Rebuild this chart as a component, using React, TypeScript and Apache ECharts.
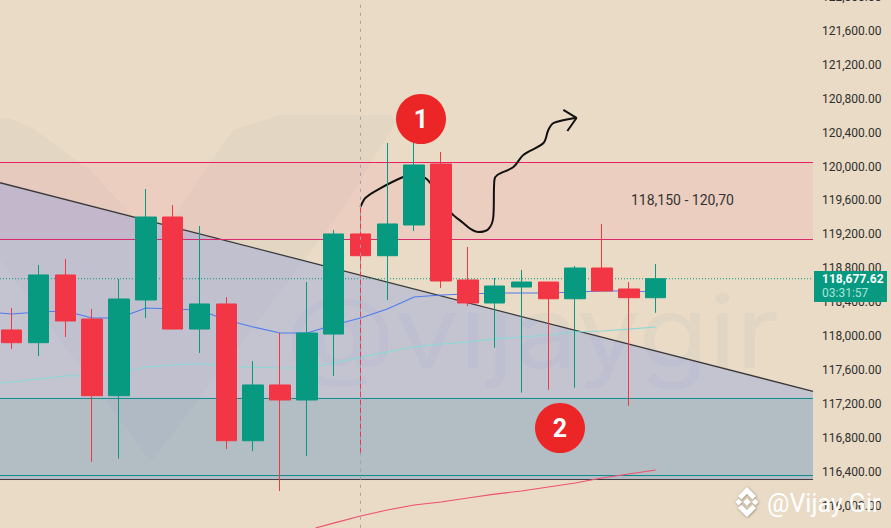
import React, { useEffect, useRef } from "react";
import * as echarts from "echarts";

const W = 891;
const H = 528;

// [index, open, close, low, high]
const candles: number[][] = [
  [0, 118074, 117924, 117850, 118333],
  [1, 117924, 118722, 117767, 118840],
  [2, 118722, 118180, 117991, 118910],
  [3, 118203, 117299, 116522, 118321],
  [4, 117299, 118439, 116557, 118675],
  [5, 118427, 119405, 118215, 119735],
  [6, 119405, 118085, 118085, 119546],
  [7, 118085, 118380, 117803, 119299],
  [8, 118380, 116769, 116671, 118462],
  [9, 116769, 117426, 116648, 117708],
  [10, 117426, 117249, 116177, 118038],
  [11, 117249, 118038, 116589, 118639],
  [12, 118026, 119205, 117532, 119252],
  [13, 119205, 118949, 116601, 119546],
  [14, 118949, 119323, 118427, 120277],
  [15, 119311, 120018, 119240, 120312],
  [16, 120030, 118651, 118569, 120171],
  [17, 118663, 118392, 118356, 119052],
  [18, 118392, 118592, 117865, 118686],
  [19, 118580, 118639, 117335, 118781],
  [20, 118639, 118442, 117370, 118639],
  [21, 118442, 118804, 117394, 118828],
  [22, 118804, 118533, 118533, 119323],
  [23, 118557, 118454, 117182, 118639],
  [24, 118454, 118677.62, 118277, 118851],
];

const emaBlue: number[][] = [
  [-0.44, 118274], [0, 118262], [1, 118286], [2, 118297], [3, 118215], [4, 118215],
  [5, 118333], [6, 118321], [7, 118309], [8, 118191], [9, 118109], [10, 118038],
  [11, 118038], [12, 118133], [13, 118215], [14, 118321], [15, 118462], [16, 118486],
  [17, 118498], [18, 118510], [19, 118510], [20, 118510], [21, 118521], [22, 118533],
  [23, 118533], [24, 118521],
];

const emaCyan: number[][] = [
  [-0.44, 117449], [0, 117461], [1, 117496], [2, 117532], [3, 117532], [4, 117567],
  [5, 117638], [6, 117661], [7, 117679], [8, 117649], [9, 117638], [10, 117626],
  [11, 117626], [12, 117685], [13, 117755], [14, 117814], [15, 117873], [16, 117909],
  [17, 117932], [18, 117968], [19, 117991], [20, 118015], [21, 118050], [22, 118062],
  [23, 118085], [24, 118109],
];

const maRed: number[][] = [
  [11.32, 115741], [12, 115799], [13, 115882], [14, 115953], [15, 116012], [16, 116047],
  [17, 116094], [18, 116141], [19, 116177], [20, 116224], [21, 116271], [22, 116330],
  [23, 116377], [24, 116424],
];

const sketchCurve: number[][] = [
  [13.0, 119523], [13.18, 119629], [13.62, 119723], [14.59, 119876], [15.0, 119900],
  [15.41, 119865], [15.6, 119806], [16.39, 119452], [16.83, 119334], [17.1, 119264],
  [17.39, 119228], [17.77, 119264], [17.95, 119405], [17.99, 119841], [18.1, 119900],
  [18.7, 119994], [19.07, 120136], [19.82, 120277], [20.0, 120430], [20.2, 120513],
  [21.0, 120572],
];
const sketchHead: number[][] = [[20.56, 120666], [21.05, 120572], [20.71, 120418]];

const xMin = -0.436;
const xMax = 29.865;
const trendLine: number[][] = [[xMin, 119809], [xMax, 117351]];
const resistanceTop = 120047;
const resistanceBottom = 119140;
const supportTop = 117267;
const supportBottom = 116359;
const baseLevel = 116312;
const lastPrice = 118677.62;
const sessionIndex = 13;
const zoneLabel = "118,150 - 120,70";
const priceTag = "118,677.62";
const timerTag = "03:31:57";
const watermark = "@vijaygir";
const credit = "@Vijay Gir";

const BG = "#E9DBC5";
const GREEN = "#089981";
const RED = "#F23645";
const PINK = "#E91E63";
const TEAL = "#128A8E";

function hLine(name: string, value: number, color: string, width: number, type: any = "solid") {
  return {
    name,
    type: "line",
    z: 2,
    data: [[xMin, value], [xMax, value]],
    showSymbol: false,
    silent: true,
    lineStyle: { color, width, type },
  };
}

function badge(cx: number, cy: number, label: string) {
  return [
    { type: "circle", z: 100, shape: { cx, cy, r: 25 }, style: { fill: "#EC2527" } },
    {
      type: "text",
      z: 101,
      x: cx,
      y: cy,
      style: {
        text: label,
        fill: "#FFFFFF",
        font: "bold 25px Roboto, sans-serif",
        textAlign: "center",
        textVerticalAlign: "middle",
      },
    },
  ];
}

function logo(cx: number, cy: number) {
  const pieces = [
    [[0, -15], [9, -6], [5.6, -2.6], [0, -8.2], [-5.6, -2.6], [-9, -6]],
    [[0, 15], [9, 6], [5.6, 2.6], [0, 8.2], [-5.6, 2.6], [-9, 6]],
    [[-11.5, 0], [-8.2, -3.3], [-4.9, 0], [-8.2, 3.3]],
    [[11.5, 0], [8.2, -3.3], [4.9, 0], [8.2, 3.3]],
    [[0, -3.7], [3.7, 0], [0, 3.7], [-3.7, 0]],
  ];
  return pieces.map((p) => ({
    type: "polygon",
    z: 110,
    shape: { points: p.map(([x, y]) => [cx + x, cy + y]) },
    style: { fill: "#FFFFFF", shadowColor: "rgba(60,50,40,0.6)", shadowBlur: 2, shadowOffsetX: 0.5, shadowOffsetY: 0.5 },
  }));
}

export default function App() {
  const ref = useRef<HTMLDivElement>(null);
  useEffect(() => {
    const chart = echarts.init(ref.current!, undefined, { renderer: "svg" });
    chart.setOption({
      animation: false,
      backgroundColor: BG,
      grid: { left: 0, top: -3.25, width: 813, height: 543.2, outerBoundsMode: "none" },
      xAxis: { type: "value", min: xMin, max: xMax, show: false },
      yAxis: {
        type: "value",
        position: "right",
        min: 115600,
        max: 122000,
        interval: 400,
        axisLine: { show: false },
        axisTick: { show: false },
        splitLine: { show: false },
        axisLabel: {
          margin: 9,
          color: "#2F2F2F",
          fontSize: 12,
          fontFamily: "Roboto, sans-serif",
          showMinLabel: true,
          showMaxLabel: true,
          formatter: (v: number) =>
            v.toLocaleString("en-US", { minimumFractionDigits: 2, maximumFractionDigits: 2 }),
        },
      },
      series: [
        {
          name: "Trend zone",
          type: "line",
          z: 1,
          data: trendLine,
          showSymbol: false,
          silent: true,
          lineStyle: { color: "#3A3A3A", width: 1.3 },
          areaStyle: { origin: baseLevel, color: "rgba(86,126,244,0.36)" },
          markArea: {
            silent: true,
            data: [
              [
                { yAxis: resistanceTop, itemStyle: { color: "rgba(255,119,155,0.12)" } },
                { yAxis: resistanceBottom },
              ],
              [
                { yAxis: supportTop, itemStyle: { color: "rgba(114,176,121,0.20)" } },
                { yAxis: baseLevel },
              ],
            ],
          },
        },
        hLine("Resistance top", resistanceTop, PINK, 1),
        hLine("Resistance bottom", resistanceBottom, "#D9296A", 1),
        hLine("Support top", supportTop, TEAL, 1),
        hLine("Support bottom", supportBottom, TEAL, 1),
        hLine("Base", baseLevel, "#443B40", 1),
        hLine("Last price", lastPrice, GREEN, 1, [1, 2]),
        { name: "EMA blue", type: "line", z: 3, data: emaBlue, showSymbol: false, silent: true, lineStyle: { color: "#4F7BF0", width: 1.1 } },
        { name: "EMA cyan", type: "line", z: 3, data: emaCyan, showSymbol: false, silent: true, lineStyle: { color: "#8CD8D8", width: 1.2 } },
        { name: "MA red", type: "line", z: 3, data: maRed, showSymbol: false, silent: true, lineStyle: { color: "#F0506E", width: 1.2 } },
        { name: "Sketch", type: "line", z: 3, data: sketchCurve, smooth: 0.3, showSymbol: false, silent: true, lineStyle: { color: "#111111", width: 2 } },
        { name: "Sketch head", type: "line", z: 3, data: sketchHead, showSymbol: false, silent: true, lineStyle: { color: "#111111", width: 2 } },
        {
          name: "Price",
          type: "candlestick",
          z: 5,
          data: candles,
          barWidth: 21,
          itemStyle: {
            color: GREEN,
            color0: RED,
            borderColor: GREEN,
            borderColor0: RED,
            borderWidth: 1,
          },
        },
        {
          name: "Session",
          type: "line",
          z: 6,
          data: [[sessionIndex, 122000], [sessionIndex, 115600]],
          showSymbol: false,
          silent: true,
          lineStyle: { color: "#9AA0AE", width: 1, type: [3, 5] },
        },
      ],
      graphic: {
        elements: [
          {
            type: "polygon",
            z: -1,
            silent: true,
            shape: {
              points: [
                [-60, 118], [10, 118], [35, 130], [90, 170], [133, 217], [152, 240], [173, 217],
                [233, 130], [280, 115], [390, 115], [397, 120], [340, 213], [151, 462], [0, 260],
              ],
            },
            style: { fill: "rgba(110,120,170,0.045)" },
          },
          {
            type: "text",
            z: -1,
            silent: true,
            x: 285,
            y: 382,
            scaleX: 1.14,
            style: {
              text: watermark,
              fill: "rgba(100,115,190,0.06)",
              font: "100px Inter, sans-serif",
              textAlign: "left",
              textVerticalAlign: "bottom",
            },
          },
          {
            type: "text",
            z: 50,
            x: 631,
            y: 200,
            style: {
              text: zoneLabel,
              fill: "#333333",
              font: "14px Roboto, sans-serif",
              textAlign: "left",
              textVerticalAlign: "middle",
            },
          },
          ...badge(421, 119, "1"),
          ...badge(560, 428, "2"),
          { type: "rect", z: 90, shape: { x: 814, y: 271, width: 73, height: 31 }, style: { fill: GREEN } },
          {
            type: "text",
            z: 91,
            x: 822,
            y: 279,
            style: { text: priceTag, fill: "#FFFFFF", font: "bold 12px Roboto, sans-serif", textVerticalAlign: "middle" },
          },
          {
            type: "text",
            z: 91,
            x: 822,
            y: 293,
            style: { text: timerTag, fill: "#A8E4D8", font: "12px Roboto, sans-serif", textVerticalAlign: "middle" },
          },
          ...logo(747, 502),
          {
            type: "text",
            z: 110,
            x: 767,
            y: 503,
            style: {
              text: credit,
              fill: "#FFFFFF",
              font: "25px Roboto, sans-serif",
              textVerticalAlign: "middle",
              shadowColor: "rgba(60,50,40,0.6)",
              shadowBlur: 2,
              shadowOffsetX: 0.5,
              shadowOffsetY: 0.5,
            },
          },
        ],
      },
    });
    return () => chart.dispose();
  }, []);
  return (
    <div
      ref={ref}
      style={{ position: "fixed", left: 0, top: 0, width: W, height: H, overflow: "hidden" }}
    />
  );
}
